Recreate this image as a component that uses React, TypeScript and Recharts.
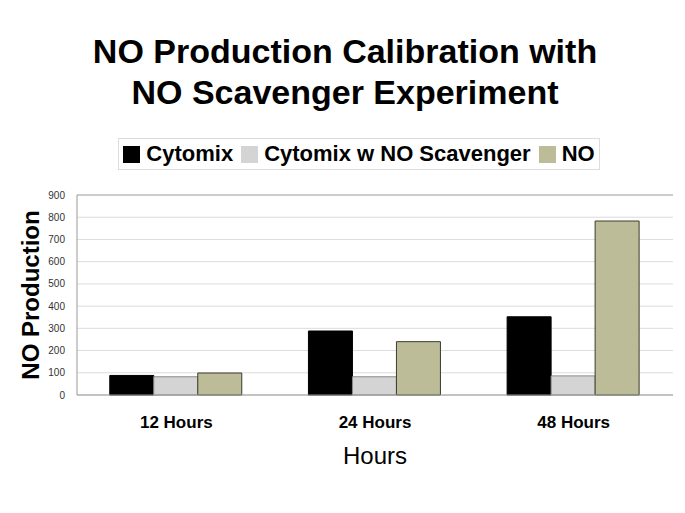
import { BarChart, Bar, XAxis, YAxis, CartesianGrid, Legend, ReferenceLine } from "recharts";

const categories = ["12 Hours", "24 Hours", "48 Hours"];
const cytomix = [88, 288, 352];
const cytomixScavenger = [82, 82, 86];
const noValues = [99, 240, 783];
const yTicks = [0, 100, 200, 300, 400, 500, 600, 700, 800, 900];

const seriesInfo = [
  { key: "cytomix", name: "Cytomix", fill: "#000000", stroke: "#000000" },
  { key: "scav", name: "Cytomix w NO Scavenger", fill: "#d4d4d4", stroke: "#8a8a8a" },
  { key: "no", name: "NO", fill: "#bdbc98", stroke: "#3c3c2c" },
];

const data = categories.map((c, i) => ({
  name: c,
  cytomix: cytomix[i],
  scav: cytomixScavenger[i],
  no: noValues[i],
}));

const font = "'Liberation Sans', Arial, Helvetica, sans-serif";

const LegendBox = () => (
  <div
    style={{
      border: "1px solid #dcdcdc",
      height: 32,
      boxSizing: "border-box",
      display: "flex",
      alignItems: "center",
      justifyContent: "center",
      fontFamily: font,
      fontWeight: "bold",
      fontSize: 22,
      color: "#000",
      whiteSpace: "nowrap",
    }}
  >
    {seriesInfo.map((s, i) => (
      <span key={s.key} style={{ display: "inline-flex", alignItems: "center", marginRight: i < 2 ? 8 : 0 }}>
        <span style={{ display: "inline-block", width: 17, height: 17, background: s.fill, marginRight: 6 }} />
        {s.name}
      </span>
    ))}
  </div>
);

export default function App() {
  return (
    <div style={{ position: "absolute", left: 0, top: 0, width: 685, height: 513, background: "#fff", fontFamily: font }}>
      <div
        style={{
          position: "absolute",
          left: 0,
          top: 31,
          width: 690,
          textAlign: "center",
          fontWeight: "bold",
          fontSize: 34,
          lineHeight: "41px",
          color: "#000",
        }}
      >
        NO Production Calibration with
        <br />
        NO Scavenger Experiment
      </div>
      <BarChart
        width={685}
        height={513}
        data={data}
        margin={{ top: 195, right: 12, bottom: 88, left: 37 }}
        barCategoryGap="16.5%"
        barGap={0}
      >
        <CartesianGrid vertical={false} stroke="#dcdcdc" />
        <ReferenceLine y={900} stroke="#aaaaaa" />
        <XAxis
          dataKey="name"
          height={30}
          tickLine={false}
          axisLine={{ stroke: "#999999" }}
          tick={{ fontFamily: font, fontWeight: "bold", fontSize: 17, fill: "#000" }}
          tickMargin={15}
          label={{ value: "Hours", position: "bottom", offset: 22, style: { fontFamily: font, fontSize: 24, fill: "#000" } }}
        />
        <YAxis
          width={40}
          domain={[0, 900]}
          ticks={yTicks}
          interval={0}
          tickLine={false}
          axisLine={{ stroke: "#999999" }}
          tick={{ fontFamily: font, fontSize: 10, fill: "#333" }}
          tickMargin={6}
          label={({ viewBox }: any) => (
            <text
              x={viewBox.x - 7}
              y={viewBox.y + viewBox.height / 2}
              transform={`rotate(-90, ${viewBox.x - 7}, ${viewBox.y + viewBox.height / 2})`}
              textAnchor="middle"
              dominantBaseline="central"
              style={{ fontFamily: font, fontWeight: "bold", fontSize: 24, fill: "#000" }}
            >
              NO Production
            </text>
          )}
        />
        <YAxis yAxisId="r" orientation="right" width={0} tick={false} tickLine={false} axisLine={{ stroke: "#aaaaaa" }} />
        <Legend
          layout="horizontal"
          verticalAlign="middle"
          align="center"
          content={() => <LegendBox />}
          wrapperStyle={{ top: 138, left: 118, width: 482, height: 32 }}
        />
        {seriesInfo.map((s) => (
          <Bar
            key={s.key}
            dataKey={s.key}
            name={s.name}
            fill={s.fill}
            stroke={s.stroke}
            strokeWidth={1}
            isAnimationActive={false}
          />
        ))}
      </BarChart>
    </div>
  );
}
